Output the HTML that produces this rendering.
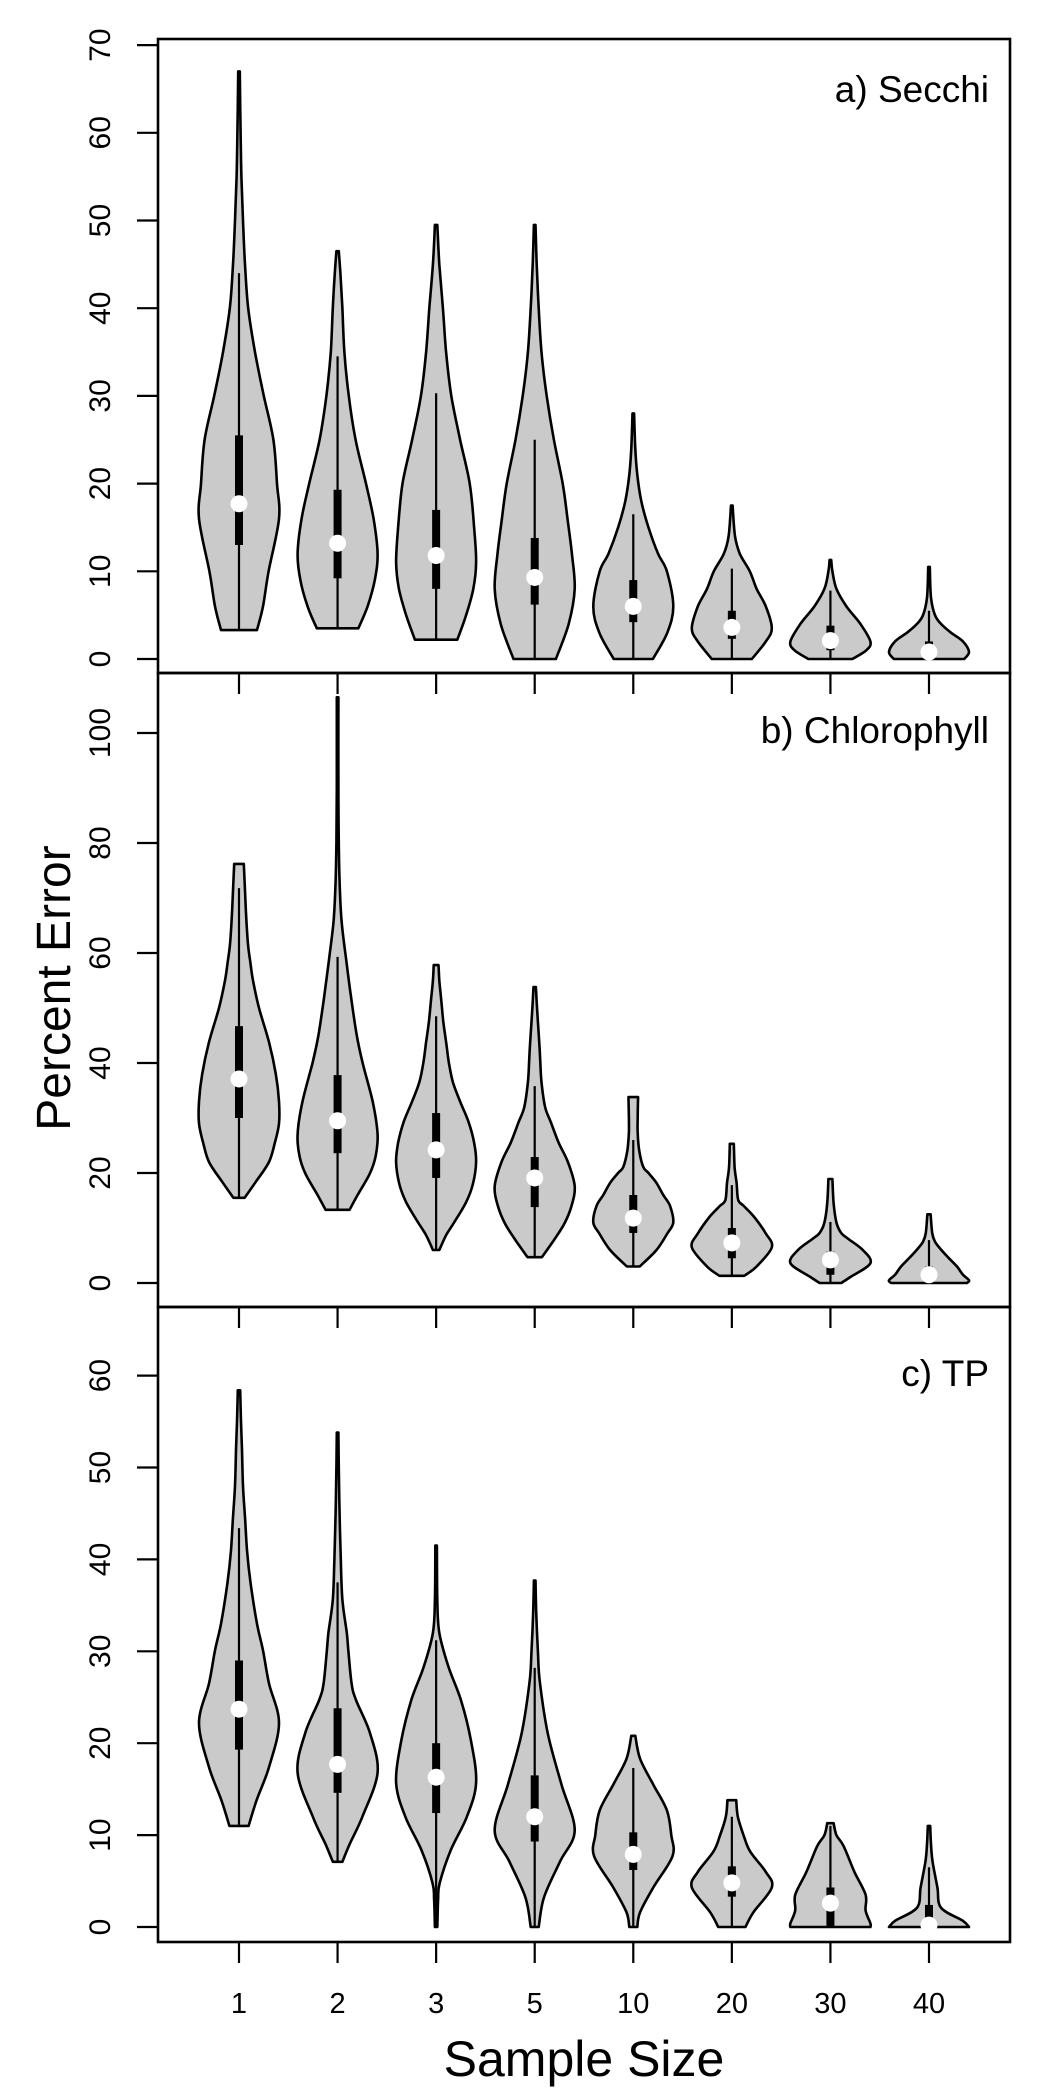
<!DOCTYPE html>
<html><head><meta charset="utf-8">
<style>
html,body{margin:0;padding:0;background:#fff;}
svg{display:block;font-family:"Liberation Sans",Arial,sans-serif;}
</style></head>
<body>
<svg id="chart" width="1050" height="2100" viewBox="0 0 1050 2100" xmlns="http://www.w3.org/2000/svg">
  <text x="0" y="0" transform="translate(70,988) rotate(-90)" text-anchor="middle" font-size="48">Percent Error</text>
  <text x="584" y="2076" text-anchor="middle" font-size="50">Sample Size</text>
</svg>
<script>
// ---- data ----
const categories = ["1","2","3","5","10","20","30","40"];
const panelTitles = ["a) Secchi","b) Chlorophyll","c) TP"];
const yTicksA = [0,10,20,30,40,50,60,70];
const yTicksB = [0,20,40,60,80,100];
const yTicksC = [0,10,20,30,40,50,60];

const medianA = [17.7,13.2,11.8,9.3,6,3.6,2.1,0.8];
const q1A = [13,9.2,8,6.2,4.2,2.3,1,0.3];
const q3A = [25.5,19.3,17,13.8,9,5.5,3.8,2];
const whiskerA = [44,34.5,30.3,25,16.5,10.3,7.8,5.5];
const densityA = [
 [[3.3,.45],[6,.6],[10,.74],[16,1],[20,.95],[25,.86],[30,.62],[35,.4],[40,.23],[45,.15],[50,.1],[55,.06],[60,.04],[67,.02]],
 [[3.5,.52],[6,.75],[9,.93],[12,1],[16,.9],[20,.71],[25,.45],[30,.28],[35,.17],[40,.12],[44,.07],[46.5,.03]],
 [[2.2,.53],[5,.75],[8,.93],[11,1],[15,.95],[20,.84],[25,.6],[30,.38],[35,.25],[40,.17],[45,.08],[49.5,.03]],
 [[0,.53],[4,.85],[8,1],[12,.93],[16,.82],[20,.7],[25,.48],[30,.3],[35,.17],[40,.1],[45,.05],[49.5,.02]],
 [[0,.49],[3,.85],[6,1],[10,.84],[12,.62],[15,.38],[18,.2],[21,.1],[24,.05],[28,.02]],
 [[0,.5],[2,.85],[3.5,1],[6,.85],[8,.62],[10,.45],[12,.2],[14,.08],[17.5,.02]],
 [[0,.55],[1,.9],[2,1],[4,.75],[6,.4],[8,.15],[10,.05],[11.3,.02]],
 [[0,.88],[0.8,1],[2,.85],[3,.55],[4,.3],[5,.15],[7,.05],[10.5,.02]]
];

const medianB = [37.1,29.5,24.2,19.1,11.8,7.3,4.2,1.5];
const q1B = [30,23.6,19.1,13.8,9.1,4.5,1.5,0];
const q3B = [46.7,37.8,30.9,22.9,16,10,5.7,3];
const whiskerB = [71.8,59.3,48.5,35.8,26,17.8,11.1,7.8];
const densityB = [
 [[15.5,.14],[18.4,.42],[22,.75],[25.6,.9],[29,1],[33,1],[38,.92],[43.8,.75],[50,.5],[55,.35],[58.5,.28],[62,.22],[68,.17],[73,.14],[76.2,.12]],
 [[13.3,.3],[16,.5],[19.8,.8],[23,.95],[27,1],[32.9,.88],[40.2,.62],[45,.48],[51.3,.35],[58.5,.22],[65.8,.1],[73,.05],[80,.03],[90,.02],[106.5,.02]],
 [[6,.08],[8.7,.25],[11,.45],[14.7,.75],[18,.92],[22,1],[25.5,.95],[29.3,.81],[33,.6],[36.5,.42],[40,.32],[43.8,.25],[47.5,.18],[51.3,.13],[55,.08],[57.8,.06]],
 [[4.7,.18],[8,.5],[10.9,.75],[14,.92],[17.6,1],[22,.83],[25.5,.6],[29.3,.4],[32,.26],[36.5,.17],[40.2,.14],[43,.12],[47.5,.08],[51,.05],[53.8,.03]],
 [[3,.16],[6,.58],[9,.85],[11,1],[14,.92],[16,.75],[18.2,.58],[20,.38],[21.1,.25],[24,.15],[27.3,.11],[30,.11],[33.8,.12]],
 [[1.3,.31],[3,.62],[6.5,1],[9,.85],[12,.56],[14,.3],[15.1,.16],[18.2,.12],[21,.07],[25.3,.05]],
 [[0,.27],[1.1,.5],[3.6,1],[6,.81],[8,.45],[9.1,.27],[11,.15],[14.5,.08],[18.9,.05]],
 [[0,.95],[0.5,1],[1.5,.85],[3,.7],[4.5,.5],[6,.31],[7.5,.15],[9.1,.08],[12.5,.04]]
];

const medianC = [23.7,17.7,16.3,12,7.9,4.8,2.6,0.2];
const q1C = [19.3,14.6,12.4,9.3,6.2,3.3,0,0];
const q3C = [29,23.8,20,16.5,10.3,6.6,4.3,2.4];
const whiskerC = [43.4,37.5,31.2,28.2,17.3,12,11,6.5];
const densityC = [
 [[11,.24],[13.8,.44],[17.4,.75],[22.2,1],[26.5,.75],[30.1,.6],[33,.45],[37.4,.29],[41,.2],[44.6,.15],[48,.1],[51.9,.075],[55,.05],[58.4,.03]],
 [[7.1,.12],[9,.3],[12,.62],[16.8,1],[21.1,.81],[24.7,.46],[26.5,.35],[30,.27],[32,.23],[35.6,.12],[40,.08],[45,.05],[50,.03],[53.8,.02]],
 [[0,.03],[3,.05],[4.8,.09],[8.4,.37],[12,.77],[15.7,1],[20.3,.87],[24.7,.62],[28.3,.31],[32,.08],[35.6,.03],[41.5,.02]],
 [[0,.1],[3.2,.23],[7.1,.63],[10.5,1],[15.5,.67],[21,.33],[26.6,.13],[30,.08],[34,.04],[37.7,.02]],
 [[0,.1],[1.6,.17],[4.3,.5],[7.7,.98],[10,.95],[12.7,.84],[15.5,.5],[18.3,.17],[20.8,.05]],
 [[0,.34],[1.6,.54],[4.3,1],[6,.85],[8.2,.46],[9.9,.3],[12,.15],[13.8,.11]],
 [[0,1],[0.4,1],[1.8,.88],[3.5,.88],[6,.6],[8.8,.33],[10,.15],[11.3,.08]],
 [[0,1],[0.7,.84],[2.1,.3],[4.3,.21],[7.1,.09],[9,.05],[11,.03]]
];

// ---- layout ----
const svg = document.getElementById('chart');
const NS = 'http://www.w3.org/2000/svg';
const LEFT = 158, RIGHT = 1010, HALFW = 40;
function xScale(i){ return 239 + i * 98.57; }
const panels = [
  {top:39, bottom:673, y0:659, k:8.77, ticks:yTicksA, med:medianA, q1:q1A, q3:q3A, wh:whiskerA, dens:densityA, title:panelTitles[0], ty:102},
  {top:673, bottom:1307, y0:1283, k:5.5, ticks:yTicksB, med:medianB, q1:q1B, q3:q3B, wh:whiskerB, dens:densityB, title:panelTitles[1], ty:743},
  {top:1307, bottom:1942, y0:1927, k:9.19, ticks:yTicksC, med:medianC, q1:q1C, q3:q3C, wh:whiskerC, dens:densityC, title:panelTitles[2], ty:1386}
];
function mk(tag, attrs){ const e=document.createElementNS(NS,tag); for(const a in attrs) e.setAttribute(a,attrs[a]); return e; }

function smoothPath(pts){ // catmull-rom to bezier
  let d = '';
  for(let i=0;i<pts.length-1;i++){
    const p0=pts[Math.max(0,i-1)], p1=pts[i], p2=pts[i+1], p3=pts[Math.min(pts.length-1,i+2)];
    const c1=[p1[0]+(p2[0]-p0[0])/6, p1[1]+(p2[1]-p0[1])/6];
    const c2=[p2[0]-(p3[0]-p1[0])/6, p2[1]-(p3[1]-p1[1])/6];
    d += ` C${c1[0].toFixed(1)},${c1[1].toFixed(1)} ${c2[0].toFixed(1)},${c2[1].toFixed(1)} ${p2[0].toFixed(1)},${p2[1].toFixed(1)}`;
  }
  return d;
}

panels.forEach((P, pi) => {
  const yScale = v => P.y0 - v * P.k;
  const g = mk('g', {});
  
  
  svg.appendChild(g);

  // violins
  categories.forEach((c, i) => {
    const cx = xScale(i);
    const dens = P.dens[i];
    const right = dens.map(p => [cx + p[1]*HALFW, yScale(p[0])]);
    const left = dens.map(p => [cx - p[1]*HALFW, yScale(p[0])]).reverse();
    let d = `M${left[left.length-1][0].toFixed(1)},${left[left.length-1][1].toFixed(1)} L${right[0][0].toFixed(1)},${right[0][1].toFixed(1)}`;
    d += smoothPath(right);
    d += ` L${left[0][0].toFixed(1)},${left[0][1].toFixed(1)}`;
    d += smoothPath(left) + ' Z';
    const vg = mk('g', {});
    
    
    g.appendChild(vg);
    const path = mk('path', {d:d, fill:'#cacaca', stroke:'#000', 'stroke-width':2.6, 'stroke-linejoin':'round'});
    
    
    vg.appendChild(path);
    const wl = mk('line', {x1:cx, x2:cx, y1:yScale(dens[0][0]), y2:yScale(P.wh[i]), stroke:'#000', 'stroke-width':2.2});
    
    
    vg.appendChild(wl);
    const bx = mk('rect', {x:cx-4, y:yScale(P.q3[i]), width:8, height:(P.q3[i]-P.q1[i])*P.k, fill:'#000'});
    
    
    vg.appendChild(bx);
    const md = mk('circle', {cx:cx, cy:yScale(P.med[i]), r:8.5, fill:'#fff'});
    
    
    vg.appendChild(md);
  });

  // frame
  const fr = mk('rect', {x:LEFT, y:P.top, width:RIGHT-LEFT, height:P.bottom-P.top, fill:'none', stroke:'#000', 'stroke-width':2.6});
  
  
  g.appendChild(fr);

  // y ticks
  P.ticks.forEach(t => {
    const y = yScale(t);
    const tl = mk('line', {x1:LEFT-21, x2:LEFT, y1:y, y2:y, stroke:'#000', 'stroke-width':2.2});
    
    
    g.appendChild(tl);
    const tx = mk('text', {x:0, y:0, transform:`translate(110,${y}) rotate(-90)`, 'text-anchor':'middle', 'font-size':30});
    
    
    tx.textContent = t;
    g.appendChild(tx);
  });

  // x ticks
  categories.forEach((c, i) => {
    const x = xScale(i);
    const tl = mk('line', {x1:x, x2:x, y1:P.bottom, y2:P.bottom+21, stroke:'#000', 'stroke-width':2.2});
    
    
    g.appendChild(tl);
    if (pi === 2) {
      const tx = mk('text', {x:x, y:2013, 'text-anchor':'middle', 'font-size':29});
      
      
      tx.textContent = c;
      g.appendChild(tx);
    }
  });

  const tt = mk('text', {x:989, y:P.ty, 'text-anchor':'end', 'font-size':37});
  
  
  tt.textContent = P.title;
  g.appendChild(tt);
});
</script>
</body></html>
